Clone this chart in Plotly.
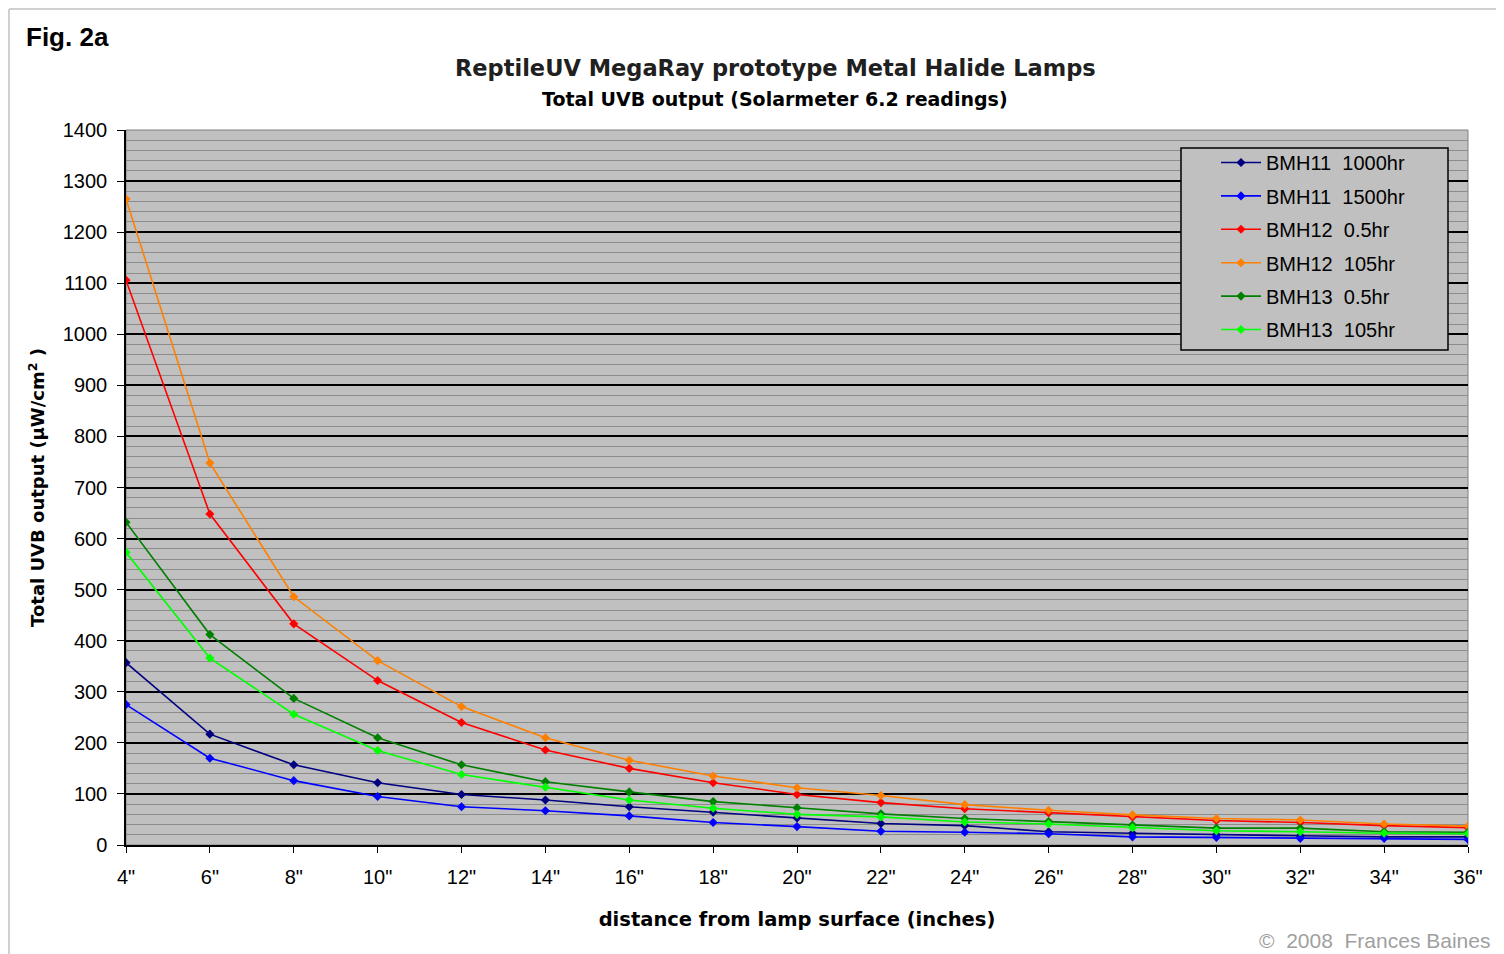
import plotly.graph_objects as go

distances = [4, 6, 8, 10, 12, 14, 16, 18, 20, 22, 24, 26, 28, 30, 32, 34, 36]
tick_labels = [f'{d}"' for d in distances]

bmh11_1000 = [357, 217, 157, 122, 99, 88, 75, 64, 53, 42, 38, 26, 23, 20, 18, 16, 16]
bmh11_1500 = [275, 170, 126, 95, 75, 67, 57, 44, 36, 27, 25, 22, 16, 15, 13, 13, 11]
bmh12_05 = [1106, 648, 433, 322, 240, 186, 150, 122, 99, 83, 71, 63, 55, 48, 44, 38, 34]
bmh12_105 = [1265, 748, 486, 361, 271, 210, 166, 135, 112, 97, 79, 68, 59, 52, 49, 41, 37]
bmh13_05 = [632, 412, 287, 210, 157, 124, 104, 85, 73, 61, 52, 46, 39, 33, 33, 26, 25]
bmh13_105 = [573, 366, 256, 185, 138, 113, 88, 72, 60, 55, 45, 41, 34, 28, 26, 23, 22]

series = [
    ("BMH11  1000hr", bmh11_1000, "#000080"),
    ("BMH11  1500hr", bmh11_1500, "#0000ff"),
    ("BMH12  0.5hr", bmh12_05, "#ff0000"),
    ("BMH12  105hr", bmh12_105, "#ff8000"),
    ("BMH13  0.5hr", bmh13_05, "#008000"),
    ("BMH13  105hr", bmh13_105, "#00ff00"),
]

fig = go.Figure()
for name, vals, col in series:
    fig.add_trace(go.Scatter(
        x=distances, y=vals, name=name, mode="lines+markers",
        legendgroup=name,
        line=dict(color=col, width=1.6),
        marker=dict(symbol="diamond", size=7, color=col),
    ))

axis_font = dict(family="Liberation Sans, Arial", size=20, color="black")

# page body adds an 8px offset; plot area spans page x 126..1468, y 130..845
PL, PR, PT, PB = 126, 1468, 130, 845
W, H = PR - PL, PB - PT

def px(x):
    return (x - PL) / W

def py(y):
    return (PB - y) / H

fig.update_layout(
    width=1496, height=946,
    paper_bgcolor="white",
    plot_bgcolor="#c0c0c0",
    margin=dict(l=118, r=36, t=122, b=109),
    showlegend=True,
    legend=dict(
        x=px(1216), y=py(143), xanchor="left", yanchor="top",
        bgcolor="rgba(0,0,0,0)", borderwidth=0,
        font=dict(family="Liberation Sans, Arial", size=20, color="black"),
        itemwidth=40, tracegroupgap=4.4,
    ),
    xaxis=dict(
        range=[4, 36], tickvals=distances, ticktext=tick_labels,
        showgrid=False, zeroline=False,
        showline=True, linecolor="black", linewidth=1.5,
        ticks="outside", ticklen=6, tickcolor="black",
        tickfont=axis_font, mirror=False, ticklabelstandoff=7,
        title=dict(text="<b>distance from lamp surface (inches)</b>",
                   font=dict(family="DejaVu Sans", size=19.5, color="black"),
                   standoff=26),
    ),
    yaxis=dict(
        range=[0, 1400], dtick=100,
        showgrid=True, gridcolor="black", gridwidth=1.8,
        zeroline=False,
        showline=True, linecolor="black", linewidth=1.5,
        ticks="outside", ticklen=7, tickcolor="black",
        tickfont=axis_font, ticklabelstandoff=6,
        minor=dict(dtick=20, showgrid=True, gridcolor="#8c8c8c", gridwidth=1),
        title=dict(text="<b>Total UVB output (µW/cm<sup>2</sup> )</b>",
                   font=dict(family="DejaVu Sans", size=18, color="black"),
                   standoff=13),
    ),
)

# plot area border
fig.add_shape(type="rect", xref="paper", yref="paper", x0=0, y0=0, x1=1, y1=1,
              line=dict(color="#808080", width=1), layer="below")
# legend box
fig.add_shape(type="rect", xref="paper", yref="paper",
              x0=px(1181), y0=py(350), x1=px(1448), y1=py(148),
              fillcolor="#c0c0c0", line=dict(color="black", width=1.5), layer="above")
# figure frame (top and left edges)
fig.add_shape(type="line", xref="paper", yref="paper",
              x0=px(9), y0=py(9), x1=px(1504), y1=py(9),
              line=dict(color="#d0d0d0", width=2))
fig.add_shape(type="line", xref="paper", yref="paper",
              x0=px(9), y0=py(9), x1=px(9), y1=py(954),
              line=dict(color="#d0d0d0", width=2))

fig.add_annotation(text="<b>Fig. 2a</b>", xref="paper", yref="paper",
                   x=px(24), y=py(37), xanchor="left", yanchor="middle",
                   showarrow=False, font=dict(family="Liberation Sans, Arial", size=26, color="black"))
fig.add_annotation(text="<b>ReptileUV MegaRay prototype Metal Halide Lamps</b>",
                   xref="paper", yref="paper", x=px(775), y=py(68),
                   xanchor="center", yanchor="middle", showarrow=False,
                   font=dict(family="DejaVu Sans", size=22.5, color="#202020"))
fig.add_annotation(text="<b>Total UVB output (Solarmeter 6.2 readings)</b>",
                   xref="paper", yref="paper", x=px(775), y=py(99),
                   xanchor="center", yanchor="middle", showarrow=False,
                   font=dict(family="DejaVu Sans", size=19, color="black"))
fig.add_annotation(text="©  2008  Frances Baines",
                   xref="paper", yref="paper", x=px(1492), y=py(940),
                   xanchor="right", yanchor="middle", showarrow=False,
                   font=dict(family="Liberation Sans, Arial", size=21, color="#a0a0a0"))

fig.write_html("out.html")
